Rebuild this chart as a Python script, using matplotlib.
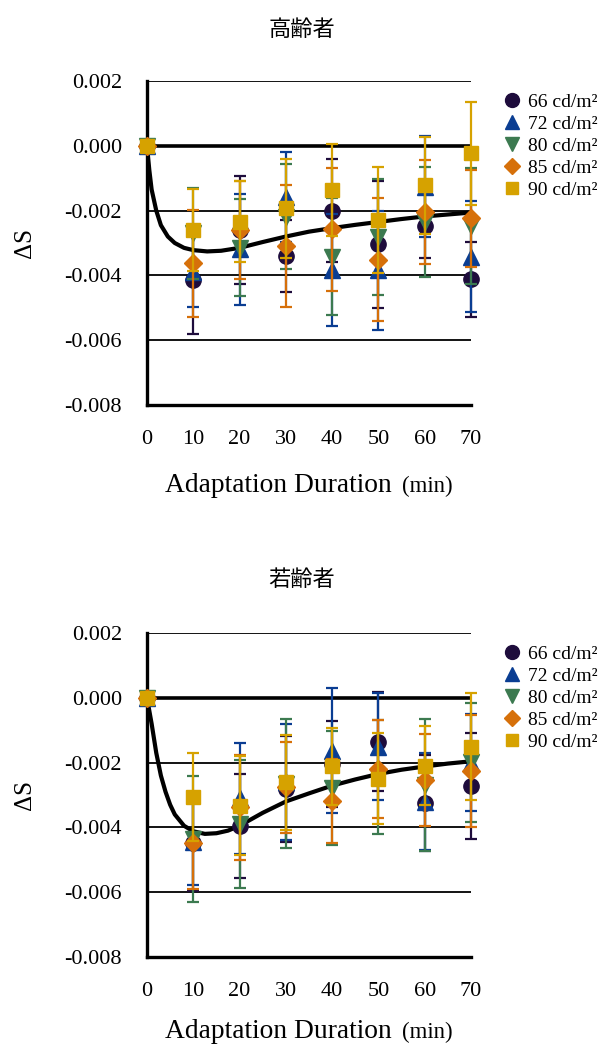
import matplotlib
matplotlib.use('Agg')
import matplotlib.pyplot as plt
from matplotlib.lines import Line2D
from matplotlib.ticker import FormatStrFormatter, MultipleLocator
import numpy as np

plt.rcParams['font.family'] = ['Liberation Serif', 'Noto Sans CJK JP']
plt.rcParams['axes.unicode_minus'] = False

W, H = 598, 1048

minutes = [0, 10, 20, 30, 40, 50, 60, 70]
labels = ['66 cd/m²', '72 cd/m²', '80 cd/m²', '85 cd/m²', '90 cd/m²']
titles = ['高齢者', '若齢者']

# elderly (values and symmetric errors in units of 1e-3)
old_66 = [0, -4.15, -2.60, -3.40, -2.00, -3.04, -2.47, -4.12]
old_72 = [0, -3.89, -3.20, -1.59, -3.84, -3.84, -1.26, -3.42]
old_80 = [0, -2.70, -3.14, -2.19, -3.42, -2.82, -2.34, -2.47]
old_85 = [0, -3.63, -2.60, -3.08, -2.58, -3.51, -2.05, -2.24]
old_90 = [0, -2.60, -2.34, -1.93, -1.36, -2.29, -1.22, -0.23]
old_err_66 = [0, 1.67, 1.67, 1.12, 1.60, 1.96, 1.00, 1.15]
old_err_72 = [0, 1.10, 1.70, 1.39, 1.73, 1.83, 1.55, 1.72]
old_err_80 = [0, 1.40, 1.50, 1.62, 1.80, 1.80, 1.70, 1.80]
old_err_85 = [0, 1.65, 1.50, 1.88, 1.89, 1.89, 1.60, 1.50]
old_err_90 = [0, 1.26, 1.24, 1.53, 1.42, 1.65, 1.49, 1.59]
old_fit_t = [0, 0.5, 1, 2, 3, 4.5, 6, 8, 10, 13, 16, 20, 25, 30, 35, 40, 45, 50, 55, 60, 65, 70]
old_fit_v = [0, -0.75, -1.35, -2.0, -2.45, -2.8, -3.0, -3.15, -3.22, -3.26, -3.24, -3.15,
             -2.97, -2.80, -2.65, -2.54, -2.44, -2.35, -2.26, -2.18, -2.12, -2.06]

# young
young_66 = [0, -4.48, -3.95, -2.81, -2.04, -1.35, -3.24, -2.73]
young_72 = [0, -4.46, -3.10, -2.60, -1.63, -1.51, -3.21, -2.00]
young_80 = [0, -4.36, -3.90, -2.65, -2.78, -2.44, -2.69, -1.99]
young_85 = [0, -4.48, -3.38, -2.76, -3.18, -2.20, -2.54, -2.27]
young_90 = [0, -3.05, -3.33, -2.61, -2.12, -2.50, -2.09, -1.51]
young_err_66 = [0, 1.48, 1.60, 1.64, 1.32, 1.53, 1.48, 1.64]
young_err_72 = [0, 1.32, 1.72, 1.80, 1.94, 1.65, 1.50, 1.50]
young_err_80 = [0, 1.95, 1.98, 2.00, 1.77, 1.76, 2.03, 1.83]
young_err_85 = [0, 1.43, 1.62, 1.41, 1.29, 1.50, 1.43, 1.73]
young_err_90 = [0, 1.36, 1.53, 1.47, 1.20, 1.41, 1.23, 1.65]
young_fit_t = [0, 0.5, 1, 2, 3, 4, 5, 6, 8, 10, 12.5, 15, 17.5, 20, 22.5, 25, 30, 35, 40, 45, 50, 55, 60, 65, 70]
young_fit_v = [0, -0.4, -0.8, -1.7, -2.4, -2.9, -3.3, -3.6, -3.95, -4.12, -4.2, -4.18, -4.1,
               -3.95, -3.75, -3.55, -3.2, -2.95, -2.71, -2.52, -2.35, -2.22, -2.12, -2.03, -1.96]

colors = ['#1e0c3c', '#0a3d92', '#3c7a50', '#d6700a', '#d6a200']
markers = ['o', '^', 'v', 'D', 's']
msizes = [11, 11, 11, 9, 10]

panels = [
    ([old_66, old_72, old_80, old_85, old_90],
     [old_err_66, old_err_72, old_err_80, old_err_85, old_err_90],
     old_fit_t, old_fit_v, 81, 405, 30, 87),
    ([young_66, young_72, young_80, young_85, young_90],
     [young_err_66, young_err_72, young_err_80, young_err_85, young_err_90],
     young_fit_t, young_fit_v, 633, 957, 579, 81),
]

fig = plt.figure(figsize=(W / 100, H / 100), dpi=100)

for p, (series, errs, fit_t, fit_v, top, bottom, title_y, lab_off) in enumerate(panels):
    ax = fig.add_axes([147 / W, 1 - bottom / H, (471 - 147) / W, (bottom - top) / H])
    ax.set_xlim(0, 70)
    ax.set_ylim(-0.008, 0.002)

    for yv in [0.002, -0.002, -0.004, -0.006]:
        ax.axhline(yv, color='black', lw=1.3, zorder=1)
    ax.axhline(0, color='black', lw=2.6, zorder=1.5)

    ax.plot(np.array(fit_t), np.array(fit_v) * 1e-3, color='black', lw=3, zorder=2.5,
            solid_capstyle='round')

    for i in range(5):
        ax.errorbar(minutes, np.array(series[i]) * 1e-3, yerr=np.array(errs[i]) * 1e-3,
                    fmt=markers[i], color=colors[i], ms=msizes[i], mec=colors[i],
                    elinewidth=1.6, capsize=4, capthick=1.6, zorder=3 + i, clip_on=False)

    for s in ['top', 'right']:
        ax.spines[s].set_visible(False)
    for s in ['left', 'bottom']:
        ax.spines[s].set_linewidth(2.4)
        ax.spines[s].set_zorder(2)
    ax.xaxis.set_major_locator(MultipleLocator(10))
    ax.yaxis.set_major_locator(MultipleLocator(0.002))
    ax.yaxis.set_major_formatter(FormatStrFormatter('%.3f'))
    ax.tick_params(axis='y', length=0, pad=18, labelsize=16)
    ax.tick_params(axis='x', length=0, pad=18, labelsize=16)

    fig.text(302 / W, 1 - title_y / H, titles[p], ha='center', va='center',
             fontsize=16, family=['Noto Sans CJK JP', 'DejaVu Sans'])
    fig.text(25 / W, 1 - (top + bottom) / 2 / H, 'ΔS', rotation=90, ha='center',
             va='center', fontsize=18)
    base = bottom + lab_off
    fig.text(165 / W, 1 - base / H, 'Adaptation Duration', ha='left', va='baseline', fontsize=19.8)
    fig.text(402 / W, 1 - base / H, '(min)', ha='left', va='baseline', fontsize=16.5)

    handles = [Line2D([], [], marker=markers[i], ls='none', color=colors[i], ms=msizes[i] - 1)
               for i in range(5)]
    fig.legend(handles, labels, loc='upper left', bbox_to_anchor=(503 / W, 1 - (top + 12) / H),
               frameon=False, fontsize=14, handlelength=0.9, handletextpad=0.4,
               labelspacing=0.23, borderpad=0, borderaxespad=0)

fig.savefig('out.png', dpi=100)
